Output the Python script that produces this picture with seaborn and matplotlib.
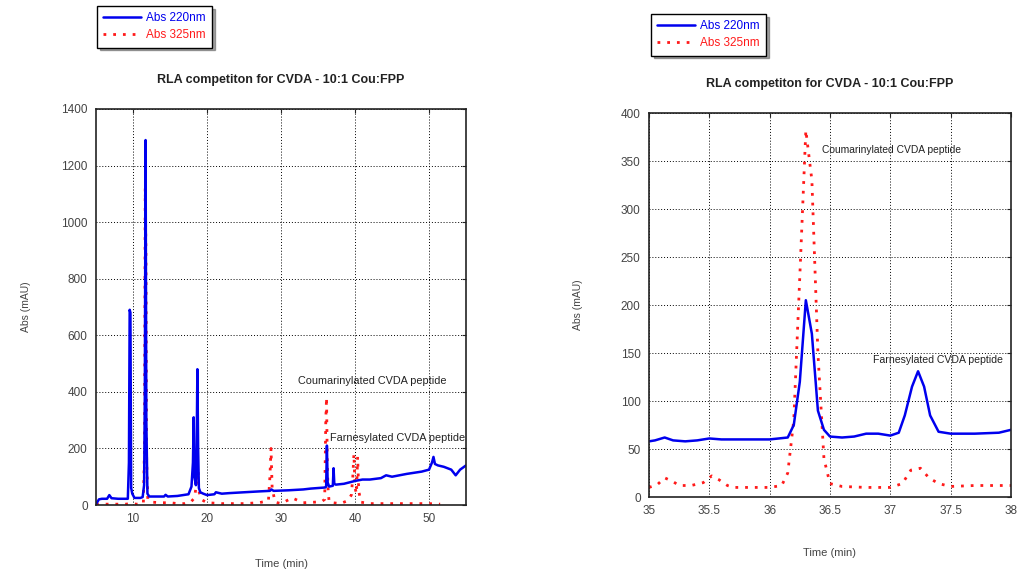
import matplotlib
matplotlib.use('Agg')
import matplotlib.pyplot as plt
import seaborn as sns

# --- full run (left panel) ---
full_t_220 = [5.0, 5.4, 5.8, 6.5, 6.8, 7.1, 8.0, 9.3, 9.45, 9.55,
              9.65, 9.75, 9.9, 10.2, 11.0, 11.3, 11.5, 11.6, 11.7, 11.8,
              11.95, 12.2, 13.5, 14.2, 14.4, 14.7, 16.0, 17.5, 17.9, 18.1,
              18.2, 18.3, 18.5, 18.6, 18.7, 18.8, 18.9, 19.1, 19.5, 20.0,
              21.0, 21.2, 22.0, 23.0, 25.0, 27.0, 28.5, 28.7, 29.0, 31.0,
              33.0, 34.0, 35.0, 36.0, 36.1, 36.2, 36.3, 36.5, 37.0, 37.1,
              37.2, 37.4, 38.5, 40.0, 41.0, 42.0, 43.5, 44.2, 45.0, 47.0,
              49.0, 50.0, 50.4, 50.6, 50.8, 51.2, 52.0, 53.0, 53.6, 54.2,
              55.0]
full_abs_220 = [3, 20, 22, 22, 35, 24, 22, 22, 150, 690,
                680, 60, 40, 25, 25, 28, 70, 400, 1290, 300,
                40, 30, 30, 30, 36, 30, 32, 38, 65, 150,
                310, 100, 70, 200, 480, 200, 60, 45, 40, 35,
                38, 45, 40, 42, 45, 48, 50, 55, 50, 52,
                55, 58, 60, 62, 65, 210, 80, 65, 68, 130,
                75, 72, 75, 85, 90, 90, 95, 105, 100, 110,
                118, 125, 150, 170, 145, 140, 135, 125, 105, 125,
                140]

full_t_325 = [5.0, 6.0, 7.0, 8.0, 9.0, 9.7, 10.5, 11.4, 11.55, 11.65,
              11.75, 11.85, 12.0, 12.5, 14.0, 15.0, 16.0, 17.0, 17.8, 18.3,
              18.5, 18.6, 18.7, 18.8, 18.9, 19.2, 20.0, 22.0, 25.0, 27.0,
              28.3, 28.5, 28.65, 28.8, 29.2, 30.0, 31.5, 33.0, 34.5, 35.5,
              35.9, 36.05, 36.15, 36.25, 36.35, 36.5, 37.0, 38.0, 39.0, 39.5,
              39.7, 39.85, 40.0, 40.2, 40.35, 40.5, 40.8, 42.0, 45.0, 48.0,
              50.0, 51.5]
full_abs_325 = [3, 3, 3, 3, 3, 5, 3, 5, 200, 1120,
                900, 150, 20, 10, 8, 8, 5, 5, 10, 25,
                60, 160, 80, 120, 50, 20, 8, 5, 5, 8,
                15, 100, 200, 60, 10, 5, 25, 8, 10, 12,
                20, 300, 380, 150, 60, 10, 8, 5, 15, 35,
                100, 180, 60, 40, 170, 50, 10, 5, 5, 5,
                5, 3]

# --- zoom 35-38 min (right panel) ---
zoom_t_220 = [35.0, 35.05, 35.13, 35.2, 35.3, 35.4, 35.5, 35.6, 35.8, 36.0,
              36.15, 36.2, 36.25, 36.3, 36.35, 36.4, 36.45, 36.5, 36.6, 36.7,
              36.8, 36.9, 37.0, 37.07, 37.12, 37.18, 37.23, 37.28, 37.33, 37.4,
              37.5, 37.7, 37.9, 38.0]
zoom_abs_220 = [58, 59, 62, 59, 58, 59, 61, 60, 60, 60,
                62, 75, 120, 205, 170, 90, 70, 63, 62, 63,
                66, 66, 64, 67, 85, 115, 131, 115, 85, 68,
                66, 66, 67, 70]

zoom_t_325 = [35.0, 35.07, 35.13, 35.2, 35.25, 35.35, 35.45, 35.52, 35.58, 35.65,
              35.7, 35.8, 35.9, 36.0, 36.1, 36.15, 36.2, 36.25, 36.3, 36.35,
              36.4, 36.45, 36.5, 36.6, 36.8, 37.0, 37.1, 37.17, 37.25, 37.32,
              37.4, 37.5, 37.7, 37.8, 38.0]
zoom_abs_325 = [10, 13, 20, 16, 12, 12, 15, 22, 18, 12,
                10, 10, 10, 10, 12, 25, 80, 230, 382, 330,
                150, 40, 14, 11, 10, 10, 14, 28, 30, 20,
                14, 11, 12, 12, 12]

title = "RLA competiton for CVDA - 10:1 Cou:FPP"
series_names = ["Abs 220nm", "Abs 325nm"]

sns.set_style("white")
plt.rcParams['font.family'] = ['Liberation Sans', 'DejaVu Sans']

BLUE = "#0000ee"
RED = "#ff1a1a"
GREY = "#444444"
DARK = "#222222"

fig = plt.figure(figsize=(10.18, 5.74), dpi=100)
ax1 = fig.add_axes([0.0943, 0.1202, 0.3635, 0.690])
ax2 = fig.add_axes([0.6375, 0.1341, 0.3556, 0.669])


def draw(ax, t220, a220, t325, a325):
    sns.lineplot(x=t325, y=a325, ax=ax, color=RED, linewidth=2,
                 linestyle=(0, (1, 2.5)), sort=False, estimator=None)
    sns.lineplot(x=t220, y=a220, ax=ax, color=BLUE, linewidth=1.8,
                 sort=False, estimator=None)
    ax.grid(True, color="black", linestyle=(0, (1, 2)), linewidth=0.7)
    for s in ax.spines.values():
        s.set_color(DARK)
        s.set_linewidth(1.2)
    ax.tick_params(direction="in", length=3, labelsize=8.5,
                   labelcolor=GREY, color=DARK, top=True, right=True,
                   pad=6)
    ax.set_title(title, fontsize=9, fontweight="bold", color=DARK, pad=19)


draw(ax1, full_t_220, full_abs_220, full_t_325, full_abs_325)
ax1.set_xlim(5, 55)
ax1.set_ylim(0, 1400)
ax1.set_xticks([10, 20, 30, 40, 50])
ax1.set_yticks(range(0, 1401, 200))
ax1.set_xlabel("Time (min)", fontsize=8, color=GREY, labelpad=24)
ax1.set_ylabel("Abs (mAU)", fontsize=7.5, color=GREY, labelpad=22)
ax1.text(32.3, 438, "Coumarinylated CVDA peptide", fontsize=7.8, color=DARK,
         va="center")
ax1.text(36.6, 237, "Farnesylated CVDA peptide", fontsize=7.8, color=DARK,
         va="center")

draw(ax2, zoom_t_220, zoom_abs_220, zoom_t_325, zoom_abs_325)
ax2.set_xlim(35, 38)
ax2.set_ylim(0, 400)
ax2.set_xticks([35, 35.5, 36, 36.5, 37, 37.5, 38])
ax2.set_xticklabels(["35", "35.5", "36", "36.5", "37", "37.5", "38"])
ax2.set_yticks(range(0, 401, 50))
ax2.set_xlabel("Time (min)", fontsize=8, color=GREY, labelpad=22)
ax2.set_ylabel("Abs (mAU)", fontsize=7.5, color=GREY, labelpad=27)
ax2.text(36.43, 361, "Coumarinylated CVDA peptide", fontsize=7.4, color=DARK,
         va="center")
ax2.text(36.86, 143, "Farnesylated CVDA peptide", fontsize=7.6, color=DARK,
         va="center")

# legends above each panel
handles = [plt.Line2D([], [], color=BLUE, linewidth=1.8),
           plt.Line2D([], [], color=RED, linewidth=2, linestyle=(0, (1, 2.5)))]
for anchor in [(97 / 1018, 1 - 6 / 574), (651 / 1018, 1 - 14 / 574)]:
    leg = fig.legend(handles, series_names, loc="upper left",
                     bbox_to_anchor=anchor, fontsize=8.5, frameon=True,
                     fancybox=False, shadow=True, handlelength=3.2,
                     handletextpad=0.4, borderpad=0.55, labelspacing=0.4,
                     borderaxespad=0)
    leg.get_frame().set_edgecolor("black")
    leg.get_frame().set_linewidth(1.0)
    for txt, c in zip(leg.get_texts(), [BLUE, RED]):
        txt.set_color(c)

fig.savefig("out.png", dpi=100)
